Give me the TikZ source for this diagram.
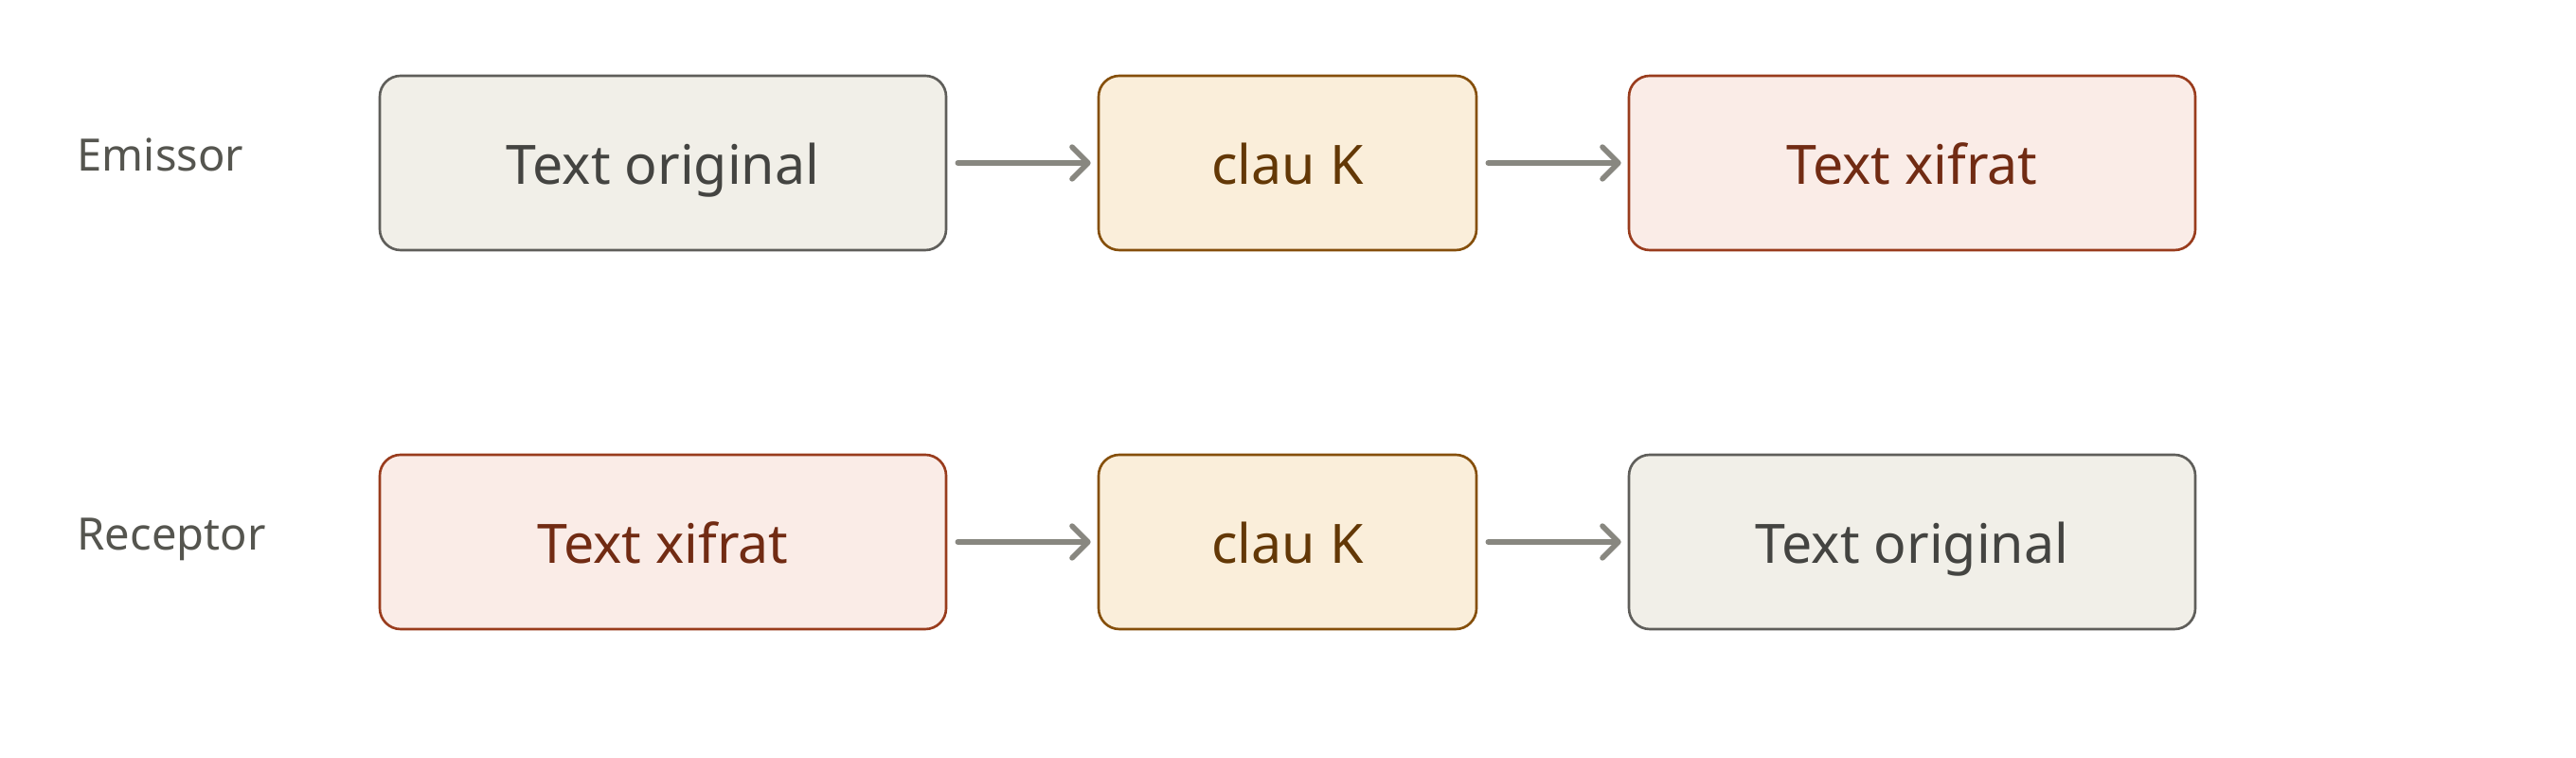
\documentclass[tikz,border=0pt]{standalone}
\usepackage{fontspec}
\setmainfont{Noto Sans}
\usepackage{xcolor}
\usetikzlibrary{positioning, arrows.meta}
\definecolor{cLabel}     {HTML}{55554F}
\definecolor{cArrow}     {HTML}{888780}
\definecolor{cPlainFill} {HTML}{F1EFE8}
\definecolor{cPlainLine} {HTML}{5F5E5A}
\definecolor{cPlainText} {HTML}{444441}
\definecolor{cKeyFill}   {HTML}{FAEEDA}
\definecolor{cKeyLine}   {HTML}{854F0B}
\definecolor{cKeyText}   {HTML}{633806}
\definecolor{cCiphFill}  {HTML}{FAECE7}
\definecolor{cCiphLine}  {HTML}{993C1D}
\definecolor{cCiphText}  {HTML}{712B13}
\tikzset{
  stage/.style={draw, rounded corners=0.22cm, line width=0.75pt, inner sep=0pt,
    minimum height=1.84cm, text height=0.46cm, text depth=0cm,
    font=\fontsize{16.3}{19}\selectfont},
  plainbox/.style={stage, fill=cPlainFill, draw=cPlainLine, text=cPlainText, minimum width=5.98cm},
  keybox/.style={stage, fill=cKeyFill, draw=cKeyLine, text=cKeyText, minimum width=3.99cm},
  ciphbox/.style={stage, fill=cCiphFill, draw=cCiphLine, text=cCiphText, minimum width=5.98cm},
  rowlabel/.style={anchor=base west, inner sep=0pt, text=cLabel, font=\fontsize{13.4}{16}\selectfont},
  flow/.style={draw=cArrow, line width=1.6pt, line cap=round,
    -{Straight Barb[length=4.8pt, width=9.6pt, line cap=round, line join=round]},
    shorten <=0.11cm, shorten >=0.07cm},
}

\begin{document}
\begin{tikzpicture}
        \useasboundingbox (0,0) rectangle (27.2,8);
        % emissor
        \node[rowlabel] (emLabel) at (0.81, 6.19) {Emissor};
        \node[plainbox] (emOrig) at (7.00, 6.28) {Text original};
        \node[keybox]   (emKey)  at (13.595, 6.28) {clau K};
        \node[ciphbox]  (emCiph) at (20.19, 6.28) {Text xifrat};
        \draw[flow] (emOrig) -- (emKey);
        \draw[flow] (emKey) -- (emCiph);
        % receptor
        \node[rowlabel] (reLabel) at (0.81, 2.19) {Receptor};
        \node[ciphbox]  (reCiph) at (7.00, 2.28) {Text xifrat};
        \node[keybox]   (reKey)  at (13.595, 2.28) {clau K};
        \node[plainbox] (reOrig) at (20.19, 2.28) {Text original};
        \draw[flow] (reCiph) -- (reKey);
        \draw[flow] (reKey) -- (reOrig);
      \end{tikzpicture}
\end{document}
